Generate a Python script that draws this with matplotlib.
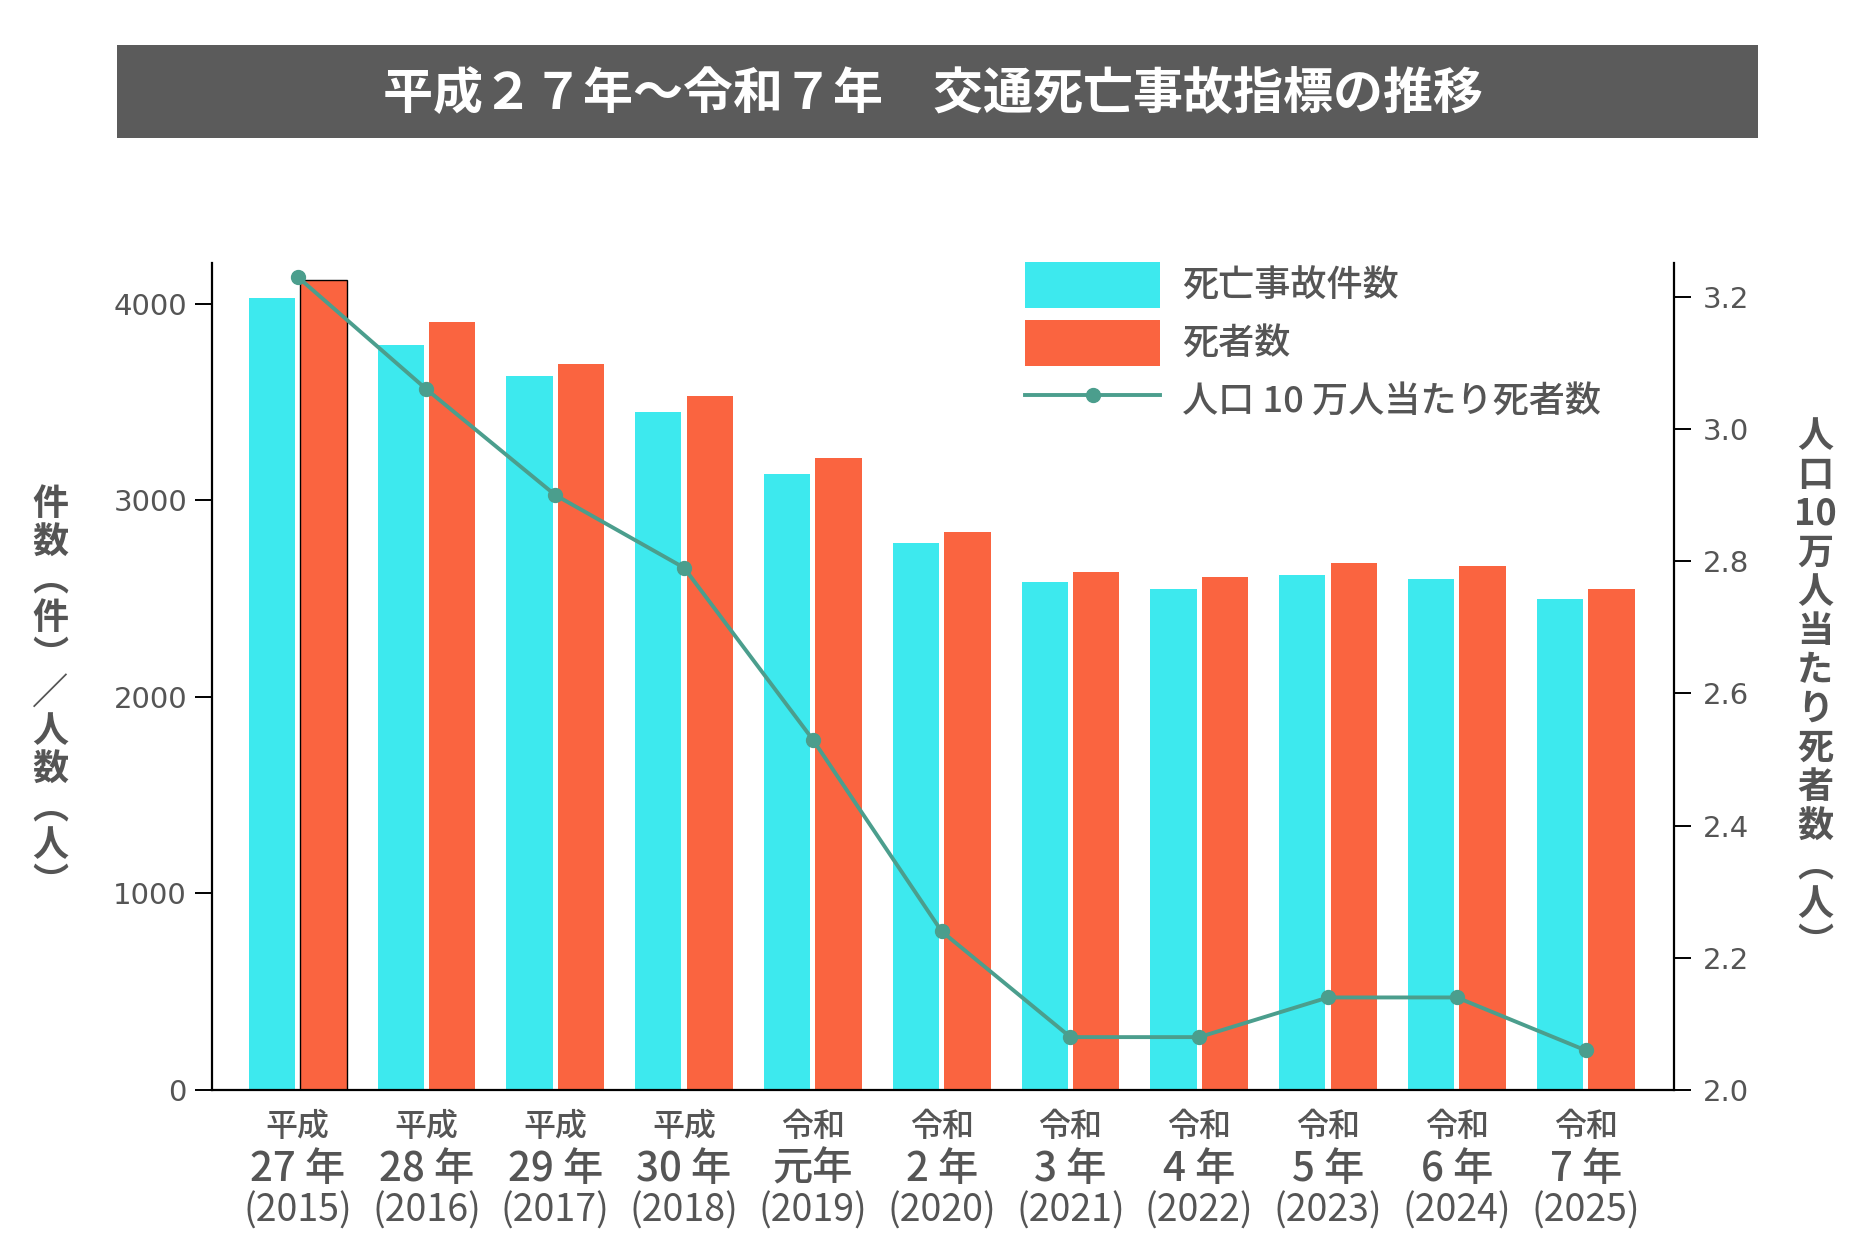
import matplotlib
matplotlib.use('Agg')
import matplotlib.pyplot as plt
from matplotlib.patches import Rectangle
import numpy as np

plt.rcParams['font.family'] = ['Noto Sans CJK JP', 'DejaVu Sans']

# ---------------- data ----------------
era = ['平成', '平成', '平成', '平成', '令和', '令和', '令和', '令和', '令和', '令和', '令和']
year_jp = ['27 年', '28 年', '29 年', '30 年', '元年', '2 年', '3 年', '4 年', '5 年', '6 年', '7 年']
year_ad = ['(2015)', '(2016)', '(2017)', '(2018)', '(2019)', '(2020)',
           '(2021)', '(2022)', '(2023)', '(2024)', '(2025)']
accidents = [4028, 3790, 3630, 3449, 3133, 2784, 2583, 2550, 2617, 2600, 2495]
deaths = [4117, 3904, 3694, 3532, 3215, 2839, 2636, 2610, 2678, 2663, 2550]
rate = [3.23, 3.06, 2.90, 2.79, 2.53, 2.24, 2.08, 2.08, 2.14, 2.14, 2.06]
left_ticks = [0, 1000, 2000, 3000, 4000]
right_ticks = [2.0, 2.2, 2.4, 2.6, 2.8, 3.0, 3.2]

title = '平成２７年～令和７年　交通死亡事故指標の推移'
label_acc = '死亡事故件数'
label_death = '死者数'
label_rate = '人口 10 万人当たり死者数'
left_ylabel = ['件', '数', '︵', '件', '︶', '／', '人', '数', '︵', '人', '︶']
right_ylabel = ['人', '口', '10', '万', '人', '当', 'た', 'り', '死', '者', '数', '︵', '人', '︶']

# ---------------- style ----------------
C_CYAN = '#3DE9EE'
C_RED = '#FA6440'
C_LINE = '#4B9E8D'
C_TEXT = '#555555'
C_TITLE_BG = '#5B5B5B'

W, H = 1875, 1250
fig = plt.figure(figsize=(W / 100, H / 100), dpi=100)

# title band
fig.patches.append(Rectangle((117 / W, 1 - 138 / H), (1758 - 117) / W, 93 / H,
                             transform=fig.transFigure, facecolor=C_TITLE_BG,
                             edgecolor='none', zorder=0))
fig.text(0.4976, 1 - 95 / H, title, color='white', fontsize=36, fontweight='bold',
         ha='center', va='center')

ax = fig.add_axes([212 / W, 1 - 1090 / H, (1674 - 212) / W, (1090 - 263) / H])
ax2 = ax.twinx()

x = np.arange(len(accidents))
bw = 0.36
ax.bar(x - 0.2, accidents, width=bw, color=C_CYAN, label=label_acc, zorder=2)
bars_red = ax.bar(x + 0.2, deaths, width=bw, color=C_RED, label=label_death, zorder=2)

ax2.plot(x, rate, color=C_LINE, lw=2.8, marker='o', markersize=10,
         label=label_rate, zorder=3)

ax.set_xlim(-0.665, 10.686)
ax.set_ylim(0, 4206)
ax2.set_ylim(2.0, 3.251)

ax.set_yticks(left_ticks)
ax.set_yticklabels([str(v) for v in left_ticks])
ax2.set_yticks(right_ticks)
ax2.set_yticklabels([f'{v:.1f}' for v in right_ticks])
ax.set_xticks([])

for a in (ax, ax2):
    a.spines['top'].set_visible(False)
    for s in a.spines.values():
        s.set_linewidth(1.6)
        s.set_color('black')
ax.spines['right'].set_visible(False)
ax2.spines['left'].set_visible(False)
ax2.spines['bottom'].set_visible(False)

ax.tick_params(axis='y', length=12, width=1.4, color='black', pad=6,
               labelsize=21, labelcolor=C_TEXT)
ax2.tick_params(axis='y', length=12, width=1.4, color='black', pad=9,
                labelsize=21, labelcolor=C_TEXT)
for lab in ax.get_yticklabels() + ax2.get_yticklabels():
    lab.set_family('DejaVu Sans')

# x category labels (three lines with different sizes)
tr = ax.get_xaxis_transform()
axh = 1090 - 263
for i in range(len(x)):
    ax.text(x[i], -(1127 - 1090) / axh, era[i], transform=tr, ha='center', va='center',
            fontsize=23, fontweight='medium', color=C_TEXT, clip_on=False)
    ax.text(x[i], -(1169 - 1090) / axh, year_jp[i], transform=tr, ha='center', va='center',
            fontsize=29, fontweight='medium', color=C_TEXT, clip_on=False)
    ax.text(x[i], -(1211 - 1090) / axh, year_ad[i], transform=tr, ha='center', va='center',
            fontsize=27, color=C_TEXT, clip_on=False)

# vertical axis titles
fig.text(50 / W, 1 - 694 / H, '\n'.join(left_ylabel), ha='center', va='center',
         fontsize=26, fontweight='bold', color=C_TEXT, linespacing=1.03)
fig.text(1815 / W, 1 - 690 / H, '\n'.join(right_ylabel), ha='center', va='center',
         fontsize=26, fontweight='bold', color=C_TEXT, linespacing=1.07)

# legend
h1, l1 = ax.get_legend_handles_labels()
h2, l2 = ax2.get_legend_handles_labels()
leg = fig.legend(h1 + h2, l1 + l2, loc='upper left',
                 bbox_to_anchor=(1025 / W, 1 - 262 / H), frameon=False,
                 fontsize=26, handlelength=3.75, handleheight=1.59,
                 handletextpad=0.6, labelspacing=0.32, borderpad=0, borderaxespad=0)
for t in leg.get_texts():
    t.set_color(C_TEXT)
    t.set_fontweight('medium')

# first death bar outlined (after legend so the legend patch stays plain)
bars_red[0].set_edgecolor('black')
bars_red[0].set_linewidth(1.0)

fig.savefig('out.png', dpi=100)
